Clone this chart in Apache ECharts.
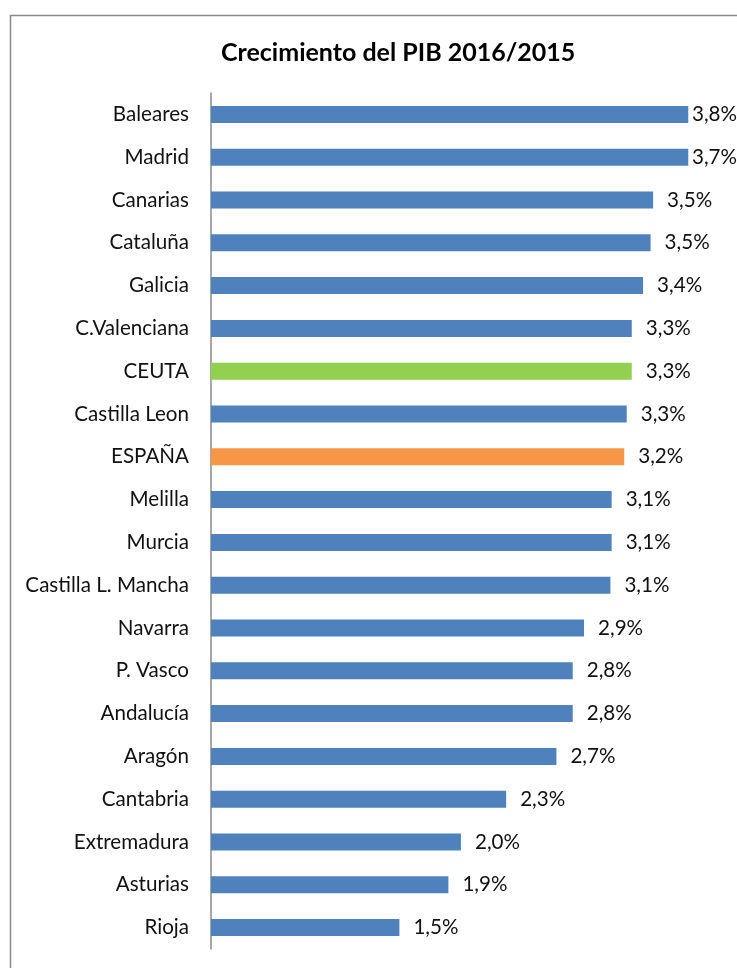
<!DOCTYPE html>
<html lang="es">

<head>
  <meta charset="UTF-8">
  <title>Crecimiento del PIB 2016/2015</title>
  <style>
    html, body {
      margin: 0;
      width: 100%;
      height: 100%;
      background: #fff;
    }

    .chart {
      width: 737px;
      height: 968px;
    }
  </style>
</head>

<body>
  <div id="chart" class="chart"></div>

  <script src="https://cdn.jsdelivr.net/npm/echarts@6/dist/echarts.min.js"></script>
  <script>
    // comunidades, de arriba a abajo
    var regiones = ['Baleares', 'Madrid', 'Canarias', 'Cataluña', 'Galicia', 'C.Valenciana', 'CEUTA',
      'Castilla Leon', 'ESPAÑA', 'Melilla', 'Murcia', 'Castilla L. Mancha', 'Navarra', 'P. Vasco',
      'Andalucía', 'Aragón', 'Cantabria', 'Extremadura', 'Asturias', 'Rioja'];

    var crecimiento = [3.80, 3.80, 3.52, 3.50, 3.44, 3.35, 3.35, 3.31, 3.29, 3.19, 3.19, 3.18,
      2.97, 2.88, 2.88, 2.75, 2.35, 1.99, 1.89, 1.50];

    // etiquetas tal como aparecen en el gráfico
    var etiquetas = ['3,8%', '3,7%', '3,5%', '3,5%', '3,4%', '3,3%', '3,3%', '3,3%', '3,2%', '3,1%',
      '3,1%', '3,1%', '2,9%', '2,8%', '2,8%', '2,7%', '2,3%', '2,0%', '1,9%', '1,5%'];

    var colorBase = '#4F81BD';
    var destacados = { 'CEUTA': '#92D050', 'ESPAÑA': '#F79646' };
    var fuente = 'Lato';

    var myChart = echarts.init(document.getElementById('chart'));

    var datos = crecimiento.map(function (v, i) {
      return {
        value: v,
        itemStyle: { color: destacados[regiones[i]] || colorBase }
      };
    });

    var option = {
      animation: false,
      title: {
        text: 'Crecimiento del PIB 2016/2015',
        left: 216,
        top: 35,
        textStyle: {
          fontFamily: fuente,
          fontSize: 25,
          fontWeight: 'bold',
          color: '#000'
        }
      },
      // marco del gráfico (cortado a la derecha y abajo)
      graphic: [{
        type: 'rect',
        shape: { x: 10.5, y: 15.5, width: 900, height: 1100 },
        style: { fill: null, stroke: '#8a8a8a', lineWidth: 1.5 },
        silent: true
      }],
      grid: {
        left: 211,
        top: 93,
        bottom: 19,
        right: 23.6
      },
      xAxis: {
        type: 'value',
        min: 0,
        max: 4,
        show: false
      },
      yAxis: {
        type: 'category',
        data: regiones,
        inverse: true,
        axisLine: { show: true, lineStyle: { color: '#8a8a8a', width: 1.5 } },
        axisTick: { show: false },
        axisLabel: {
          margin: 22,
          fontFamily: fuente,
          fontSize: 20.6,
          color: '#111'
        }
      },
      series: [{
        type: 'bar',
        data: datos,
        barWidth: 17,
        label: {
          show: true,
          position: 'right',
          distance: 14,
          fontFamily: fuente,
          fontSize: 20.6,
          color: '#111',
          formatter: function (p) {
            return etiquetas[p.dataIndex];
          }
        },
        // como en Excel: si la etiqueta no cabe, se empuja hacia dentro
        labelLayout: function (params) {
          var r = params.labelRect;
          var sobra = r.x + r.width - 737;
          return sobra > 0 ? { dx: -sobra } : {};
        }
      }]
    };

    myChart.setOption(option);
  </script>
</body>

</html>
